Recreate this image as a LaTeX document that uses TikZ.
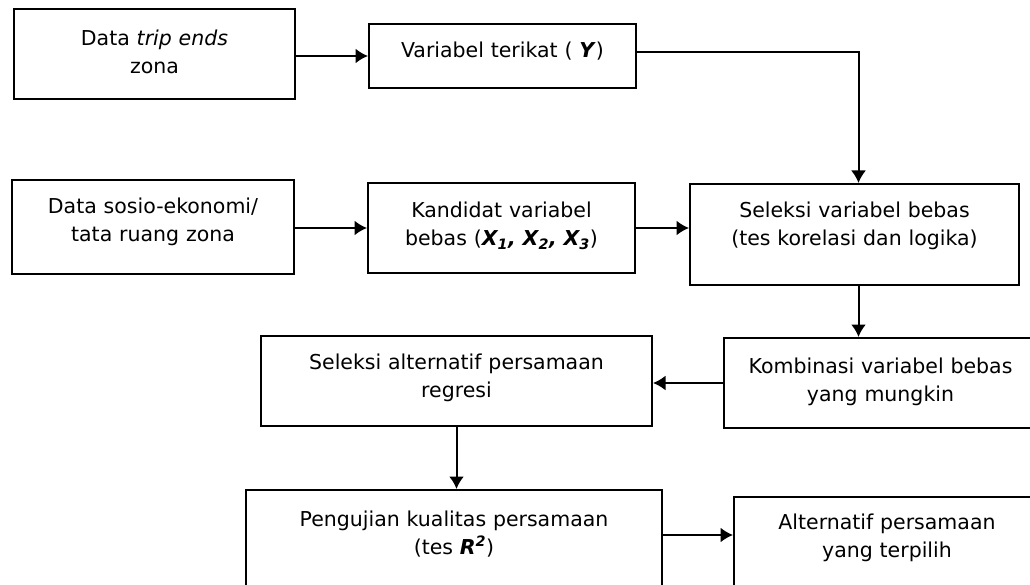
\documentclass[tikz,border=0pt]{standalone}
\usepackage{fontspec}
\setmainfont{DejaVu Sans}
\usetikzlibrary{arrows.meta}

\tikzset{
  box/.style 2 args={draw, anchor=north west, align=center, inner sep=0pt,
    text width=#1, minimum height=#2, text height=16pt, text depth=36pt,
    font=\fontsize{20.5}{28}\selectfont},
}
\newcommand{\bit}[1]{\textbf{\textit{#1}}}

\begin{document}
\begin{tikzpicture}[x=1pt, y=-1pt, line width=2pt, >={Latex[length=12.5pt,width=15pt]}]
	  \useasboundingbox (0,0) rectangle (1030,585);
	  % boxes
	  \node[box={281pt}{90pt}, text depth=32pt] (trip) at (13,8) {Data \textit{trip ends}\\zona};
	  \node[box={267pt}{64pt}, text depth=12pt] (terikat) at (368,23) {Variabel terikat ( \bit{Y})};
	  \node[box={282pt}{94pt}, text depth=42pt] (sosio) at (11,179) {Data sosio-ekonomi/\\tata ruang zona};
	  \node[box={267pt}{90pt}] (kandidat) at (367,182) {Kandidat variabel\\bebas (\bit{X\textsubscript{1}, X\textsubscript{2}, X\textsubscript{3}})};
	  \node[box={329pt}{101pt}, text depth=49pt] (seleksi) at (689,183) {Seleksi variabel bebas\\(tes korelasi dan logika)};
	  \node[box={313pt}{90pt}] (kombinasi) at (723,337) {Kombinasi variabel bebas\\yang mungkin};
	  \node[box={391pt}{90pt}, text depth=40pt] (alternatif) at (260,335) {Seleksi alternatif persamaan\\regresi};
	  \node[box={416pt}{130pt}, text depth=74pt] (pengujian) at (245,489) {Pengujian kualitas persamaan\\(tes \bit{R\textsuperscript{2}})};
	  \node[box={306pt}{130pt}, text depth=82pt] (terpilih) at (733,496) {Alternatif persamaan\\yang terpilih};
	  % arrows
	  \draw[->] (trip.east |- terikat) -- (terikat);
	  \draw[->] ([yshift=4pt]terikat.east) -| ([xshift=4pt]seleksi.north);
	  \draw[->] (sosio.east |- kandidat) -- (kandidat);
	  \draw[->] (kandidat) -- (kandidat -| seleksi.west);
	  \coordinate (s) at ([xshift=4pt]seleksi.south);
	  \draw[->] (s) -- (s |- kombinasi.north);
	  \draw[->] (kombinasi) -- (kombinasi -| alternatif.east);
	  \draw[->] (alternatif) -- (alternatif |- pengujian.north);
	  \coordinate (r) at ([yshift=-46pt]pengujian.north east);
	  \draw[->] (r) -- (r -| terpilih.west);
	\end{tikzpicture}
\end{document}
